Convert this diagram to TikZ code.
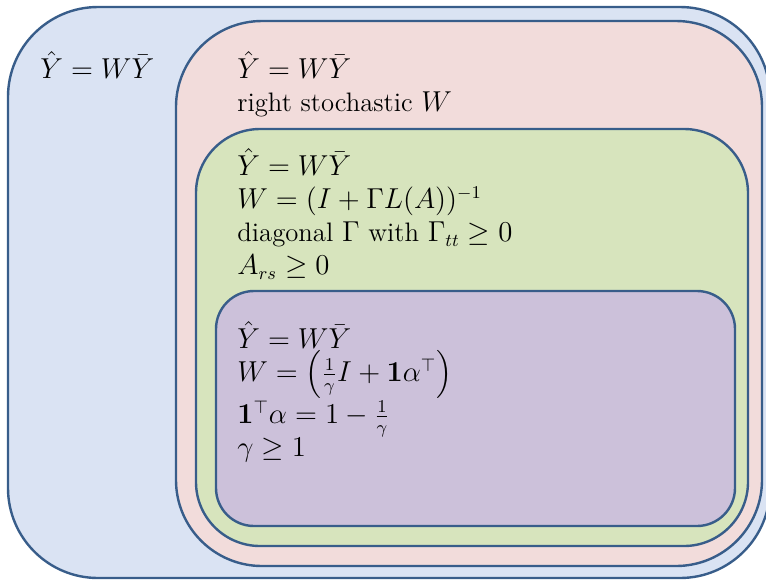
\documentclass[tikz,border=0pt]{standalone}
\usepackage{amsmath,amssymb}
\definecolor{edge}{RGB}{56,93,138}
\definecolor{setA}{RGB}{218,227,243}
\definecolor{setB}{RGB}{242,220,219}
\definecolor{setC}{RGB}{215,228,189}
\definecolor{setD}{RGB}{204,193,218}
\tikzset{
  setbox/.style={draw=edge, line width=1.2pt},
  settext/.style={anchor=north west, inner sep=0pt, align=left,
    font=\fontsize{13.35}{16.5}\selectfont}
}
\begin{document}
\begin{tikzpicture}[x=0.5pt, y=-0.5pt]
   \useasboundingbox (0,0) rectangle (766,580);
   \clip (0,0) rectangle (766,580);
   \foreach \xa/\ya/\xb/\yb/\r/\c in
     {  8/7/770/578/45pt/setA,
      176/21/762/566/43pt/setB,
      196/129/748/546/32pt/setC,
      216/291/735/526/19pt/setD}
     \draw[setbox, fill=\c, rounded corners=\r] (\xa,\ya) rectangle (\xb,\yb);
   \node[settext] (all) at (40,51) {$\hat{Y} = W\bar{Y}$};
   \node[settext] (stoch) at (237,51) {$\hat{Y} = W\bar{Y}$\\ right stochastic $W$};
   \node[settext] (graph) at (237,148) {$\hat{Y} = W\bar{Y}$\\
     $W = (I + \Gamma L(A))^{-1}$\\
     diagonal $\Gamma$ with $\Gamma_{tt} \geq 0$\\
     $A_{rs} \geq 0$};
   \node[settext] (rank) at (237,321) {$\hat{Y} = W\bar{Y}$\\
     $W = \left(\frac{1}{\gamma} I + \mathbf{1}\alpha^{\top}\right)$\\
     $\mathbf{1}^{\top}\alpha = 1 - \frac{1}{\gamma}$\\
     $\gamma \geq 1$};
\end{tikzpicture}
\end{document}
